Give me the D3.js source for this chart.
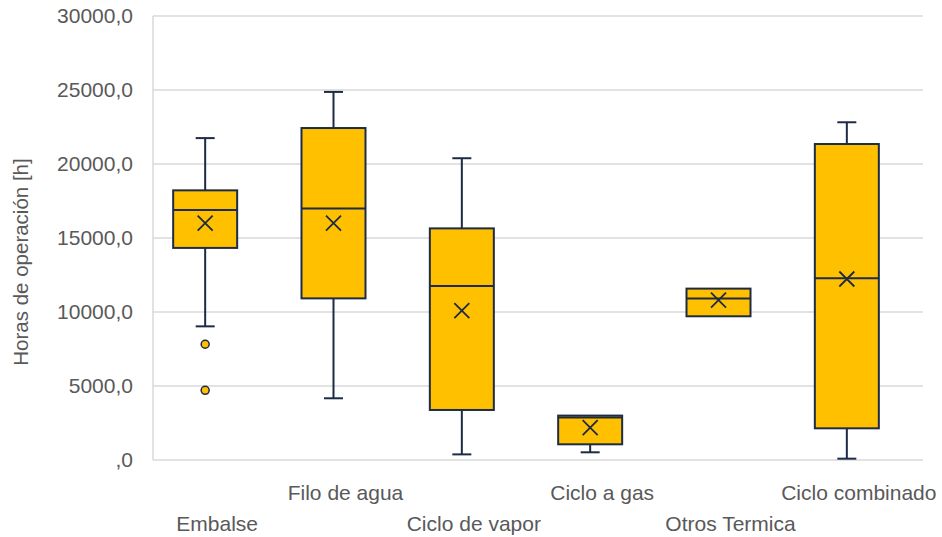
<!DOCTYPE html>
<html>
<head>
<meta charset="utf-8">
<script src="https://cdn.jsdelivr.net/npm/d3@7"></script>
<style>
  html, body { margin: 0; padding: 0; background: #ffffff; }
  svg { display: block; }
  text { font-family: "Liberation Sans", Arial, sans-serif; fill: #595959; }
</style>
</head>
<body>
<svg id="chart" width="942" height="537"></svg>
<script>
// Operating hours per generation technology (box & whisker summary)
const categories = ["Embalse", "Filo de agua", "Ciclo de vapor", "Ciclo a gas", "Otros Termica", "Ciclo combinado"];
const minValues    = [9030, 4170, 380, 520, 9710, 90];
const q1Values     = [14330, 10920, 3380, 1060, 9710, 2140];
const medianValues = [16890, 17000, 11760, 2870, 10920, 12280];
const q3Values     = [18220, 22430, 15650, 3000, 11580, 21350];
const maxValues    = [21750, 24870, 20390, 3000, 11580, 22820];
const meanValues   = [16000, 16000, 10090, 2190, 10810, 12230];
const outlierValues = [[7820, 4710], [], [], [], [], []];
const yTicks = [0, 5000, 10000, 15000, 20000, 25000, 30000];
const yTitle = "Horas de operación [h]";

const rows = categories.map((c, i) => ({
  cat: c, min: minValues[i], q1: q1Values[i], med: medianValues[i],
  q3: q3Values[i], max: maxValues[i], mean: meanValues[i], outliers: outlierValues[i]
}));

const svg = d3.select("#chart");
const plot = { left: 153, right: 923, top: 16, bottom: 460 };

const x = d3.scaleBand().domain(categories).range([plot.left, plot.right]).padding(0);
const y = d3.scaleLinear().domain([0, 30000]).range([plot.bottom, plot.top]);

const boxW = 64, capW = 19, boxShift = -12;
const stroke = "#1d2b45", fill = "#FFC000", grid = "#d9d9d9";
const cx = d => x(d.cat) + x.bandwidth() / 2 + boxShift;

const fmt = v => v === 0 ? ",0" : d3.format(".1f")(v).replace(".", ",");

// horizontal gridlines
svg.append("g").selectAll("line").data(yTicks).join("line")
  .attr("x1", plot.left).attr("x2", plot.right)
  .attr("y1", d => y(d)).attr("y2", d => y(d))
  .attr("stroke", grid).attr("stroke-width", 1.5);

// left axis line
svg.append("line")
  .attr("x1", plot.left).attr("x2", plot.left)
  .attr("y1", y(30000)).attr("y2", y(0))
  .attr("stroke", grid).attr("stroke-width", 1.5);

// y axis labels
const yAxis = d3.axisLeft(y).tickValues(yTicks).tickFormat(fmt).tickSize(0).tickPadding(20);
const gy = svg.append("g").attr("transform", `translate(${plot.left},0)`).call(yAxis);
gy.select(".domain").remove();
gy.selectAll("text").attr("font-size", 21).attr("fill", "#595959")
  .attr("font-family", "Liberation Sans, Arial, sans-serif");

// y axis title
svg.append("text")
  .attr("transform", `translate(28,${(plot.top + plot.bottom) / 2 + 24}) rotate(-90)`)
  .attr("text-anchor", "middle")
  .attr("font-size", 20.5)
  .text(yTitle);

// category labels, staggered on two rows
svg.append("g").selectAll("text").data(categories).join("text")
  .attr("x", d => x(d) + x.bandwidth() / 2)
  .attr("y", (d, i) => i % 2 === 0 ? 531 : 500)
  .attr("text-anchor", "middle")
  .attr("font-size", 21)
  .text(d => d);

const g = svg.append("g").selectAll("g").data(rows).join("g");

// whiskers
g.append("line")
  .attr("x1", cx).attr("x2", cx)
  .attr("y1", d => y(d.q3)).attr("y2", d => y(d.max))
  .attr("stroke", stroke).attr("stroke-width", 2);
g.append("line")
  .attr("x1", cx).attr("x2", cx)
  .attr("y1", d => y(d.q1)).attr("y2", d => y(d.min))
  .attr("stroke", stroke).attr("stroke-width", 2);
g.filter(d => d.max > d.q3).append("line")
  .attr("x1", d => cx(d) - capW / 2).attr("x2", d => cx(d) + capW / 2)
  .attr("y1", d => y(d.max)).attr("y2", d => y(d.max))
  .attr("stroke", stroke).attr("stroke-width", 2);
g.filter(d => d.min < d.q1).append("line")
  .attr("x1", d => cx(d) - capW / 2).attr("x2", d => cx(d) + capW / 2)
  .attr("y1", d => y(d.min)).attr("y2", d => y(d.min))
  .attr("stroke", stroke).attr("stroke-width", 2);

// boxes
g.append("rect")
  .attr("x", d => cx(d) - boxW / 2)
  .attr("y", d => y(d.q3))
  .attr("width", boxW)
  .attr("height", d => y(d.q1) - y(d.q3))
  .attr("fill", fill).attr("stroke", stroke).attr("stroke-width", 2);

// medians
g.append("line")
  .attr("x1", d => cx(d) - boxW / 2).attr("x2", d => cx(d) + boxW / 2)
  .attr("y1", d => y(d.med)).attr("y2", d => y(d.med))
  .attr("stroke", stroke).attr("stroke-width", 2);

// mean markers
const m = 7.5;
g.append("path")
  .attr("d", d => {
    const px = cx(d), py = y(d.mean);
    return `M${px - m},${py - m}L${px + m},${py + m}M${px - m},${py + m}L${px + m},${py - m}`;
  })
  .attr("stroke", stroke).attr("stroke-width", 1.8).attr("fill", "none");

// outliers
g.selectAll("circle").data(d => d.outliers.map(v => ({ v, d }))).join("circle")
  .attr("cx", o => cx(o.d)).attr("cy", o => y(o.v)).attr("r", 4)
  .attr("fill", fill).attr("stroke", stroke).attr("stroke-width", 1.5);
</script>
</body>
</html>
